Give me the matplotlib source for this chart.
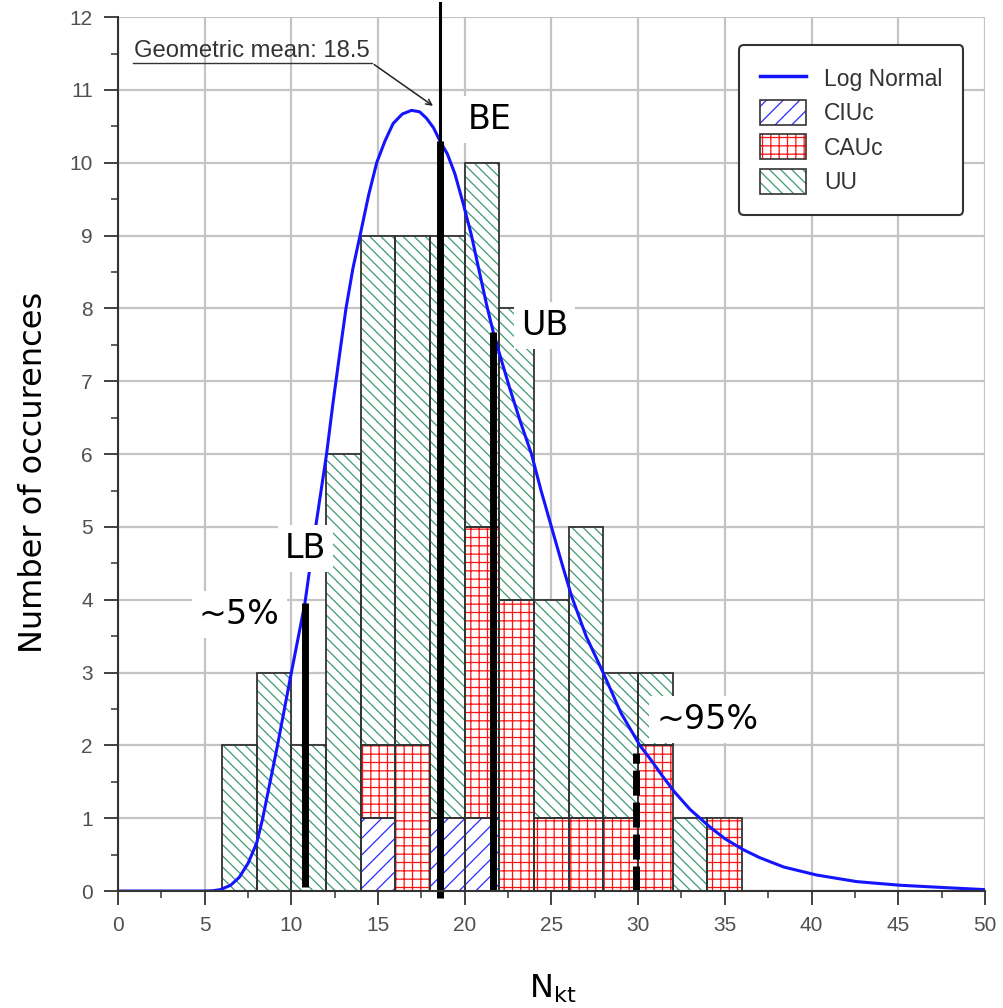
import numpy as np
import matplotlib
matplotlib.use("Agg")
import matplotlib.pyplot as plt
from matplotlib.patches import Patch
from matplotlib.lines import Line2D
from matplotlib.legend_handler import HandlerTuple
from matplotlib.ticker import MultipleLocator

# histogram: bins of width 2 starting at 6
bin_left = np.arange(6, 36, 2)
ciuc = np.array([0, 0, 0, 0, 1, 0, 1, 1, 0, 0, 0, 0, 0, 0, 0])
cauc = np.array([0, 0, 0, 0, 1, 2, 0, 4, 4, 1, 1, 1, 2, 0, 1])
uu = np.array([2, 3, 2, 6, 7, 7, 8, 5, 4, 3, 4, 2, 1, 1, 0])

# log normal curve
curve_x = [0, 5.0, 5.5, 5.9, 6.5, 7.0, 7.5, 8.0, 8.35, 9.2, 10.0, 10.78, 11.4, 12.03,
           12.4, 12.8, 13.15, 13.55, 13.96, 14.45, 14.92, 15.4, 15.87, 16.4, 16.93,
           17.4, 17.8, 18.2, 18.57, 19.0, 19.43, 19.9, 20.39, 20.8, 21.26, 21.64, 22.1,
           22.6, 23.2, 23.85, 24.4, 25.0, 25.6, 26.16, 27.0, 27.98, 29.0, 30.1, 30.68,
           31.4, 32.1, 33.0, 34.14, 35.0, 36.05, 37.0, 38.4, 40.3, 42.6, 45.1, 47.5, 50]
curve_y = [0, 0, 0.005, 0.02, 0.08, 0.19, 0.38, 0.66, 1.0, 2.0, 3.0, 3.95, 5.0, 6.0,
           6.7, 7.4, 8.0, 8.55, 9.0, 9.55, 10.0, 10.3, 10.54, 10.67, 10.72,
           10.7, 10.61, 10.48, 10.3, 10.12, 9.85, 9.45, 9.0, 8.55, 8.05, 7.68, 7.3,
           6.9, 6.45, 6.0, 5.5, 5.0, 4.5, 4.05, 3.5, 3.0, 2.45, 2.0, 1.82,
           1.58, 1.36, 1.12, 0.88, 0.72, 0.57, 0.46, 0.33, 0.22, 0.13, 0.08, 0.05, 0.02]

# marker lines: x, top
lb_x, lb_top = 10.78, 3.95
be_x, be_top = 18.57, 10.3
ub_x, ub_top = 21.64, 7.68
p95_x, p95_top = 29.9, 1.9

plt.rcParams['hatch.linewidth'] = 0.9
tick_font = 'Liberation Sans'

fig = plt.figure(figsize=(10.04, 10.08), dpi=100)
ax = fig.add_axes([0.1175, 0.116, 0.8635, 0.867])

ax.set_xlim(0, 50)
ax.set_ylim(0, 12)
ax.xaxis.set_major_locator(MultipleLocator(5))
ax.xaxis.set_minor_locator(MultipleLocator(2.5))
ax.yaxis.set_major_locator(MultipleLocator(1))
ax.yaxis.set_minor_locator(MultipleLocator(0.5))
ax.grid(True, which='major', color='#c4c4c4', lw=1.6, zorder=0)
ax.set_axisbelow(True)
for s in ['top', 'right']:
    ax.spines[s].set_visible(False)
for s in ['left', 'bottom']:
    ax.spines[s].set_color('#333333')
    ax.spines[s].set_linewidth(1.5)
    ax.spines[s].set_zorder(6)
ax.tick_params(which='major', length=10, width=1.3, color='#333333',
               labelsize=15, labelcolor='#505050', pad=8)
ax.tick_params(which='minor', length=5, width=1.1, color='#333333')
for lab in ax.get_xticklabels() + ax.get_yticklabels():
    lab.set_family(tick_font)

series = [(ciuc, '#2a2aff', '//'), (cauc, '#ff1010', '++'), (uu, '#3f9a72', '\\\\\\')]
bottom = np.zeros(len(bin_left))
handles = []
for vals, col, hatch in series:
    m = vals > 0
    ax.bar(bin_left[m], vals[m], width=2, bottom=bottom[m], align='edge',
           facecolor='white', edgecolor=col, hatch=hatch, lw=0, zorder=2)
    ax.bar(bin_left[m], vals[m], width=2, bottom=bottom[m], align='edge',
           fill=False, edgecolor='#333333', lw=1.3, zorder=3)
    bottom = bottom + vals
    handles.append((Patch(facecolor='white', edgecolor=col, hatch=hatch, lw=0),
                    Patch(fill=False, edgecolor='#333333', lw=1.2)))

ax.plot(curve_x, curve_y, color='#1414ff', lw=2.2, zorder=4)

# BE / LB / UB / 95% lines
ax.plot([be_x, be_x], [0, 12.2], color='black', lw=2.2, zorder=5, clip_on=False)
ax.plot([be_x, be_x], [-0.1, be_top], color='black', lw=5, zorder=5,
        clip_on=False, solid_capstyle='butt')
ax.plot([ub_x, ub_x], [0, ub_top], color='black', lw=5, zorder=5, solid_capstyle='butt')
ax.plot([lb_x, lb_x], [0.05, lb_top], color='black', lw=5, zorder=5, solid_capstyle='butt')
ax.plot([p95_x, p95_x], [0, p95_top], color='black', lw=5, zorder=5,
        linestyle=(0, (3.6, 1.0)), dash_capstyle='butt')

box = dict(facecolor='white', edgecolor='none', pad=5)
ax.text(21.45, 10.6, 'BE', fontsize=24, ha='center', va='center', bbox=box, zorder=7)
ax.text(24.6, 7.77, 'UB', fontsize=24, ha='center', va='center', bbox=box, zorder=7)
ax.text(10.8, 4.71, 'LB', fontsize=24, ha='center', va='center', bbox=box, zorder=7)
ax.text(7.0, 3.8, '~5%', fontsize=24, ha='center', va='center', bbox=box, zorder=7)
ax.text(34.0, 2.35, '~95%', fontsize=24, ha='center', va='center', bbox=box, zorder=7)

# geometric mean callout
ax.text(0.95, 11.45, 'Geometric mean: 18.5', fontsize=17.2, family=tick_font,
        color='#333333', ha='left', va='baseline', zorder=7)
ax.plot([0.87, 14.65], [11.37, 11.37], color='#333333', lw=1, zorder=7)
ax.annotate('', xy=(18.3, 10.76), xytext=(14.65, 11.37),
            arrowprops=dict(arrowstyle='->', color='#222222', lw=1.1), zorder=7)

leg_handles = [Line2D([], [], color='#1414ff', lw=2.5)] + handles
leg = ax.legend(leg_handles, ['Log Normal', 'CIUc', 'CAUc', 'UU'],
                handler_map={tuple: HandlerTuple(ndivide=1, pad=0)},
                loc='upper right', bbox_to_anchor=(0.975, 0.968),
                prop={'family': tick_font, 'size': 16.5}, fancybox=True,
                framealpha=1, edgecolor='#333333', handlelength=2.0,
                handleheight=1.3, borderpad=0.9, labelspacing=0.4,
                handletextpad=0.8, borderaxespad=0)
leg.get_frame().set_linewidth(1.5)
leg.set_zorder(8)
for t in leg.get_texts():
    t.set_color('#333333')

ax.set_ylabel('Number of occurences', fontsize=23)
ax.yaxis.set_label_coords(-0.08, 0.479)
ax.set_xlabel(r'N$_{\mathrm{kt}}$', fontsize=23)
ax.xaxis.set_label_coords(0.502, -0.093)

fig.savefig('out.png', dpi=100)
